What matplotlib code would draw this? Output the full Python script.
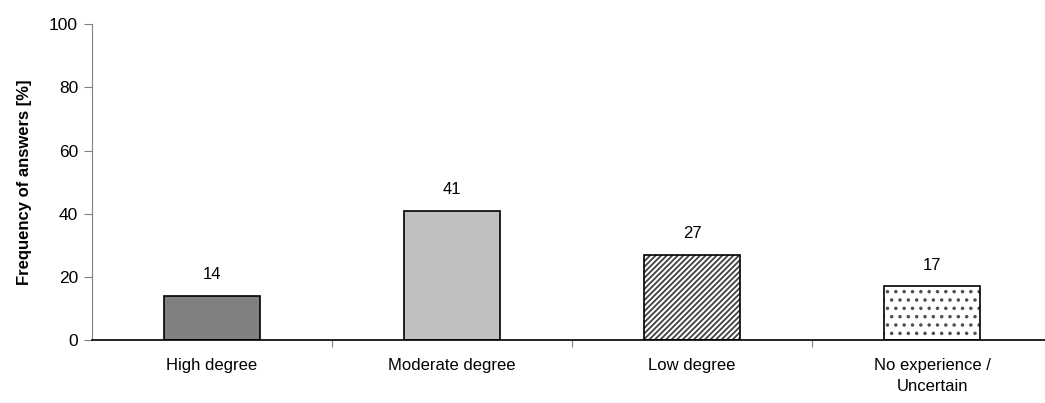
import matplotlib
matplotlib.use('Agg')
import matplotlib.pyplot as plt

plt.rcParams['font.family'] = ['Liberation Sans', 'DejaVu Sans']
plt.rcParams['hatch.linewidth'] = 1.3

categorias = ['High degree', 'Moderate degree', 'Low degree', 'No experience /\nUncertain']
valores = [14, 41, 27, 17]
cores = ['#808080', '#c0c0c0', 'white', 'white']
hachuras = [None, None, '//////', '..']
cor_hachura = ['black', 'black', '#404040', '#505050']

fig = plt.figure(figsize=(10.45, 4.03), dpi=100)
# eixo vai um pouco além da borda direita, como no original
ax = fig.add_axes([0.088, 0.156, 0.919, 0.784])

x = list(range(len(categorias)))
# preenchimento + hachura (cor da hachura = edgecolor), depois contorno preto por cima
for xi, v, c, h, ch in zip(x, valores, cores, hachuras, cor_hachura):
    ax.bar(xi, v, width=0.4, color=c, edgecolor=ch if h else c, linewidth=0, hatch=h)
ax.bar(x, valores, width=0.4, fill=False, edgecolor='black', linewidth=1.2)

for xi, v in zip(x, valores):
    ax.annotate(str(v), (xi, v), xytext=(0, 10), textcoords='offset points',
                ha='center', va='bottom', fontsize=12)

ax.set_xlim(-0.5, len(categorias) - 0.5)
ax.set_ylim(0, 100)
ax.set_yticks([0, 20, 40, 60, 80, 100])
ax.set_ylabel('Frequency of answers [%]', fontsize=12, fontweight='bold', labelpad=12)

# ticks do eixo x entre categorias, rótulos no centro
ax.set_xticks([i + 0.5 for i in x[:-1]])
ax.set_xticklabels([])
ax.set_xticks(x, minor=True)
ax.set_xticklabels(categorias, minor=True, fontsize=12, linespacing=1.45)
ax.tick_params(axis='x', which='minor', length=0, pad=13)
ax.tick_params(axis='x', which='major', length=5, direction='out', color='#808080')
ax.tick_params(axis='y', length=6, direction='out', labelsize=12.5, color='#808080', pad=4)

ax.spines['top'].set_visible(False)
ax.spines['right'].set_visible(False)
ax.spines['left'].set_color('#808080')
ax.spines['bottom'].set_linewidth(1.2)

fig.savefig('out.png', dpi=100)
